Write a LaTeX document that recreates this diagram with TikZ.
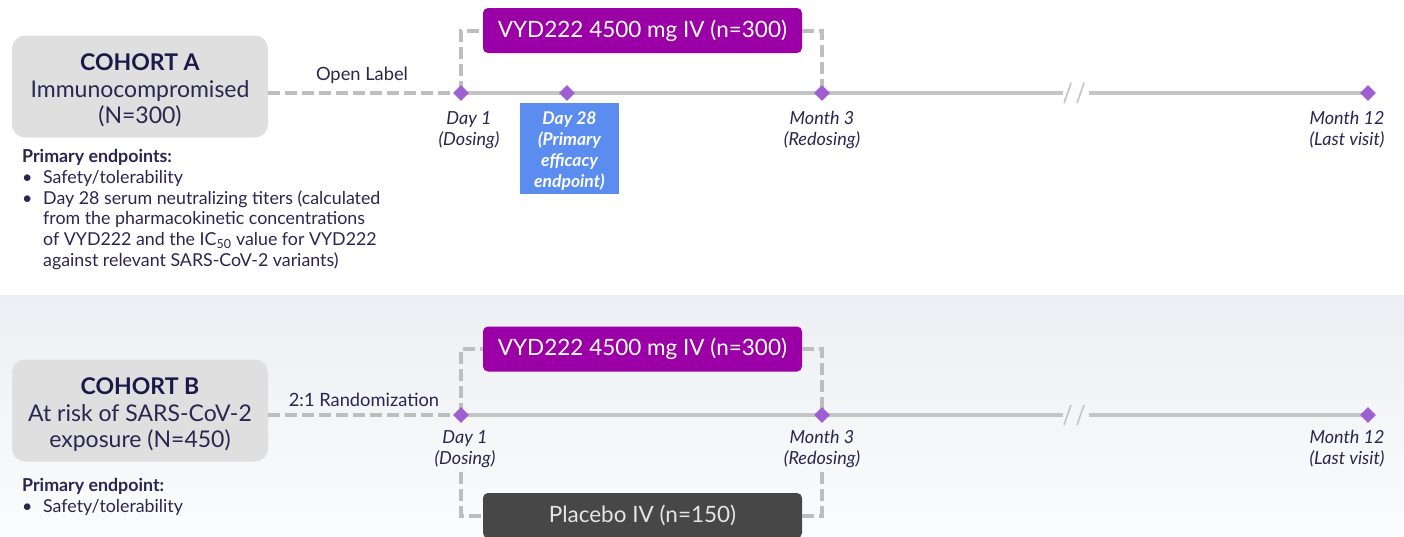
\documentclass[tikz,border=0pt]{standalone}
\usepackage{fontspec}
\setmainfont{Lato}
\usetikzlibrary{shapes.geometric}

\definecolor{cohortgray}{HTML}{DFDFDF}
\definecolor{navy}{HTML}{2A2650}
\definecolor{darknavy}{HTML}{1C1848}
\definecolor{armpurple}{HTML}{9A00A5}
\definecolor{placebogray}{HTML}{474747}
\definecolor{endpointblue}{HTML}{5B8CF0}
\definecolor{visitpurple}{HTML}{9E5FD0}
\definecolor{trackgray}{HTML}{C4C4C4}
\definecolor{dashgray}{HTML}{BEBEBE}
\definecolor{bandtop}{HTML}{ECEFF3}
\definecolor{bandbottom}{HTML}{FBFCFD}

\newcommand{\bulletpt}{\makebox[21pt][l]{\textbullet}}
\newcommand{\indentpt}{\hspace*{21pt}}
\newcommand{\cohorttitle}[1]{\rule{0pt}{25pt}{\color{darknavy}\textbf{#1}}}

\begin{document}
\begin{tikzpicture}[x=1pt,y=-1pt,
    cohort/.style={fill=cohortgray, rounded corners=13pt, minimum width=256pt,
        minimum height=102pt, align=center, text=navy,
        font=\fontsize{23}{26.5}\selectfont},
    armbox/.style={rounded corners=5pt, minimum width=319pt, minimum height=45pt,
        text=white, font=\fontsize{22.5}{25}\selectfont},
    visit/.style={diamond, fill=visitpurple, inner sep=0pt, minimum size=16pt},
    visitlabel/.style={align=center, anchor=north, text=navy, inner sep=0pt,
        font=\fontsize{18}{21}\selectfont\itshape},
    endpoint/.style={anchor=north west, align=left, text=navy, inner sep=0pt,
        font=\fontsize{17.8}{20.8}\selectfont},
    armlabel/.style={text=navy, font=\fontsize{18.3}{20}\selectfont},
    track/.style={line width=4pt, draw=trackgray},
    link/.style={line width=4pt, draw=dashgray, dash pattern=on 12pt off 5pt},
    breakmark/.style={line width=1.6pt, draw=trackgray}]

    \clip (0,0) rectangle (1404,536);
    \fill[white] (0,0) rectangle (1404,295);
    \shade[top color=bandtop, bottom color=bandbottom] (0,295) rectangle (1404,536);

    % ---- Cohort A ----
    \node[cohort] (cohortA) at (140,86.5)
        {\cohorttitle{COHORT A}\\Immunocompromised\\(N=300)};
    \node[armlabel] (openlabel) at (362,75) {Open Label};

    \coordinate (tA1) at (461,93);
    \coordinate (tA28) at (567,93);
    \coordinate (tA3) at (822,93);
    \coordinate (tA12) at (1368,93);
    \coordinate (brkA1) at (1063,93);
    \coordinate (brkA2) at (1089,93);

    \node[armbox, fill=armpurple] (armA) at (642.5,30.5) {VYD222 4500 mg IV (n=300)};

    \draw[link] (tA1 -| cohortA.east) -- (tA1);
    \draw[link] (tA1) -- (tA1 |- armA.west) -- (armA.west);
    \draw[link] (armA.east) -- (armA.east -| tA3) -- (tA3);
    \draw[track] (tA1) -- (brkA1);
    \draw[track] (brkA2) -- (tA12);
    \draw[breakmark] (1064,103) -- (1071,83);
    \draw[breakmark] (1077,103) -- (1084,83);

    \node[visit] (dA1) at (tA1) {};
    \node[visit] (dA28) at (tA28) {};
    \node[visit] (dA3) at (tA3) {};
    \node[visit] (dA12) at (tA12) {};

    \node[visitlabel] (lA1) at (469,111) {Day 1\\(Dosing)};
    \node[visitlabel] (lA3) at (822,111) {Month 3\\(Redosing)};
    \node[visitlabel] (lA12) at (1347,111) {Month 12\\(Last visit)};
    \node[fill=endpointblue, minimum width=99pt, minimum height=91pt, inner sep=0pt,
        align=center, text=white, font=\fontsize{17.5}{21}\selectfont\bfseries\itshape]
        (day28) at (569.5,148.5) {\rule{0pt}{18pt}Day 28\\(Primary\\efficacy\\endpoint)};

    \node[endpoint] (epA) at (22,149) {\textbf{Primary endpoints:}\\
        \bulletpt Safety/tolerability\\
        \bulletpt Day 28 serum neutralizing titers (calculated\\
        \indentpt from the pharmacokinetic concentrations\\
        \indentpt of VYD222 and the IC\textsubscript{50} value for VYD222\\
        \indentpt against relevant SARS-CoV-2 variants)};

    % ---- Cohort B ----
    \node[cohort] (cohortB) at (140,410.5)
        {\cohorttitle{COHORT B}\\At risk of SARS-CoV-2\\exposure (N=450)};
    \node[armlabel] (randomization) at (364,400) {2:1 Randomization};

    \coordinate (tB1) at (461,415);
    \coordinate (tB3) at (822,415);
    \coordinate (tB12) at (1368,415);
    \coordinate (brkB1) at (1063,415);
    \coordinate (brkB2) at (1089,415);
    \coordinate (pB1) at (461,472);
    \coordinate (pB3) at (822,472);

    \node[armbox, fill=armpurple] (armB) at (642.5,349) {VYD222 4500 mg IV (n=300)};
    \node[armbox, fill=placebogray, rounded corners=5pt, text=white!90!black]
        (placebo) at (642.5,515.5) {Placebo IV (n=150)};

    \draw[link] (tB1 -| cohortB.east) -- (tB1);
    \draw[link] (tB1) -- (tB1 |- armB.west) -- (armB.west);
    \draw[link] (armB.east) -- (armB.east -| tB3) -- (tB3);
    \draw[link] (pB1) -- (pB1 |- placebo.west) -- (placebo.west);
    \draw[link] (placebo.east) -- (placebo.east -| pB3) -- (pB3);
    \draw[track] (tB1) -- (brkB1);
    \draw[track] (brkB2) -- (tB12);
    \draw[breakmark] (1064,425) -- (1071,405);
    \draw[breakmark] (1077,425) -- (1084,405);

    \node[visit] (dB1) at (tB1) {};
    \node[visit] (dB3) at (tB3) {};
    \node[visit] (dB12) at (tB12) {};

    \node[visitlabel] (lB1) at (465,430) {Day 1\\(Dosing)};
    \node[visitlabel] (lB3) at (822,430) {Month 3\\(Redosing)};
    \node[visitlabel] (lB12) at (1347,430) {Month 12\\(Last visit)};

    \node[endpoint] (epB) at (22,478) {\textbf{Primary endpoint:}\\
        \bulletpt Safety/tolerability};
\end{tikzpicture}
\end{document}
